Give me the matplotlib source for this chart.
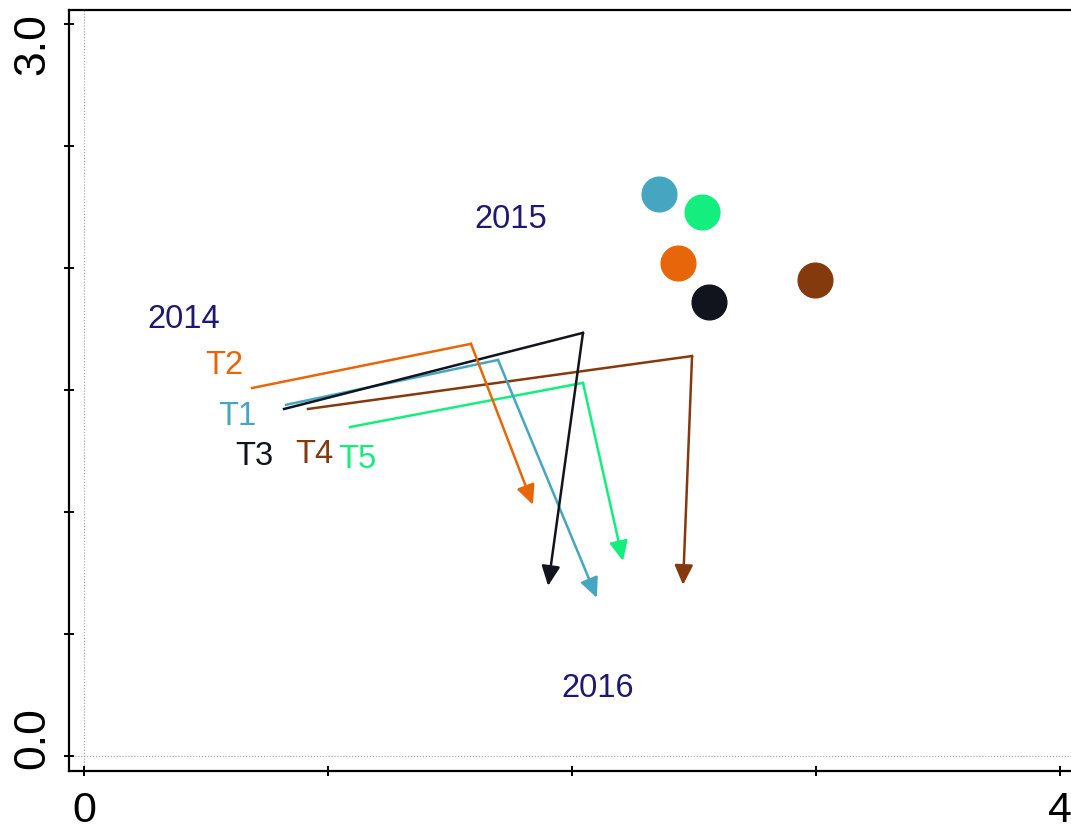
import matplotlib
matplotlib.use("Agg")
from matplotlib import pyplot as plt
from matplotlib.transforms import ScaledTranslation

plt.rcParams["font.family"] = ["Liberation Sans", "DejaVu Sans"]

# treatment names, colours
names = ["T1", "T2", "T3", "T4", "T5"]
colors = ["#46A6C2", "#E8660A", "#11141C", "#853A0E", "#14EE7E"]

# trajectory positions per year
x2014 = [0.828, 0.689, 0.820, 0.918, 1.090]
y2014 = [1.439, 1.508, 1.422, 1.422, 1.348]
x2015 = [1.697, 1.586, 2.045, 2.492, 2.045]
y2015 = [1.623, 1.689, 1.734, 1.639, 1.529]
x2016 = [2.102, 1.840, 1.902, 2.455, 2.209]
y2016 = [0.648, 1.029, 0.697, 0.701, 0.799]

# filled points
px = [2.357, 2.434, 2.561, 2.996, 2.533]
py = [2.303, 2.020, 1.861, 1.951, 2.230]

# label anchors (baseline)
name_x = [0.627, 0.574, 0.697, 0.943, 1.119]
name_y = [1.361, 1.570, 1.197, 1.205, 1.184]
years = ["2014", "2015", "2016"]
year_x = [0.410, 1.750, 2.107]
year_y = [1.758, 2.168, 0.246]

fig = plt.figure(figsize=(10.71, 8.29), dpi=100)
ax = fig.add_axes([0.0644, 0.0688, 0.9356, 0.9179])
ax.set_xlim(-0.0615, 4.045)
ax.set_ylim(-0.0615, 3.057)

ax.axvline(0, color="#a0a0a0", lw=0.8, ls=":", zorder=0)
ax.axhline(0, color="#a0a0a0", lw=0.8, ls=":", zorder=0)

for i in range(len(names)):
    c = colors[i]
    ax.plot([x2014[i], x2015[i]], [y2014[i], y2015[i]], color=c, lw=1.8,
            solid_joinstyle="miter")
    ax.annotate("", xy=(x2016[i], y2016[i]), xytext=(x2015[i], y2015[i]),
                arrowprops=dict(arrowstyle="-|>,head_length=0.6,head_width=0.28",
                                color=c, lw=1.8, shrinkA=0, shrinkB=0,
                                mutation_scale=20))
    ax.plot(px[i], py[i], "o", ms=25, color=c, mec=c)
    ax.text(name_x[i], name_y[i], names[i], color=c, fontsize=23.5,
            ha="center", va="baseline")

for yr, xx, yy in zip(years, year_x, year_y):
    ax.text(xx, yy, yr, color="#1E1870", fontsize=23.5, ha="center", va="baseline")

ax.spines["right"].set_visible(False)
for s in ["left", "bottom", "top"]:
    ax.spines[s].set_linewidth(1.6)

ax.set_xticks([0, 1, 2, 3, 4])
ax.set_xticklabels(["0", "", "", "", "4"], fontsize=31)
ax.set_yticks([0, 0.5, 1.0, 1.5, 2.0, 2.5, 3.0])
ax.set_yticklabels(["0.0", "", "", "", "", "", "3.0"], fontsize=32,
                   rotation=90, va="center")
ax.tick_params(axis="both", direction="inout", length=7, width=1.4)
ax.tick_params(axis="x", pad=10)
ax.tick_params(axis="y", pad=8)

# pull the y labels inward
labs = ax.get_yticklabels()
labs[0].set_transform(labs[0].get_transform() + ScaledTranslation(0, 19 / 100, fig.dpi_scale_trans))
labs[-1].set_transform(labs[-1].get_transform() + ScaledTranslation(0, -19 / 100, fig.dpi_scale_trans))

fig.savefig("out.png", dpi=100)
